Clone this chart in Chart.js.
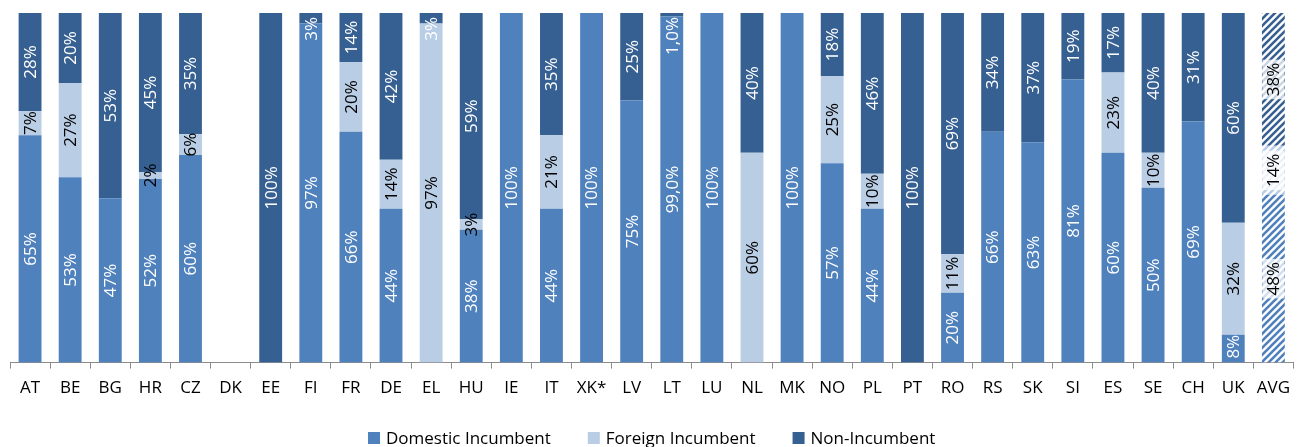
<!DOCTYPE html>
<html>
<head>
<meta charset="utf-8">
<script src="https://cdn.jsdelivr.net/npm/chart.js@4/dist/chart.umd.min.js"></script>
<style>
  html, body { margin: 0; padding: 0; background: #fff; }
  #wrap { width: 1299px; height: 447px; position: relative; }
</style>
</head>
<body>
<div id="wrap"><canvas id="c"></canvas></div>
<script>
// Market shares by country (percent)
const categories = ['AT','BE','BG','HR','CZ','DK','EE','FI','FR','DE','EL','HU','IE','IT','XK*','LV','LT','LU','NL','MK','NO','PL','PT','RO','RS','SK','SI','ES','SE','CH','UK','AVG'];
const domesticIncumbent = [65,53,47,52,60,0,0,97,66,44,0,38,100,44,100,75,99.0,100,0,100,57,44,0,20,66,63,81,60,50,69,8,48];
const foreignIncumbent  = [7,27,0,2,6,0,0,0,20,14,97,3,0,21,0,0,0,0,60,0,25,10,0,11,0,0,0,23,10,0,32,14];
const nonIncumbent      = [28,20,53,45,35,0,100,3,14,42,3,59,0,35,0,25,1.0,0,40,0,18,46,100,69,34,37,19,17,40,31,60,38];
// categories whose labels are shown with one decimal
const oneDecimal = ['LT'];

const seriesNames = ['Domestic Incumbent','Foreign Incumbent','Non-Incumbent'];
const seriesColors = ['#4F81BD','#B9CDE5','#376092'];

const FONT = '"Open Sans"';

// diagonal hatch used for the average column
function hatch(color) {
  const s = 7;
  const cv = document.createElement('canvas');
  cv.width = s; cv.height = s;
  const g = cv.getContext('2d');
  g.fillStyle = '#ffffff';
  g.fillRect(0, 0, s, s);
  g.strokeStyle = color;
  g.lineWidth = 2.6;
  g.beginPath();
  for (let k = -1; k <= 1; k++) {
    g.moveTo(k * s - 1, s + 1);
    g.lineTo(k * s + s + 1, -1);
  }
  g.stroke();
  return document.getElementById('c').getContext('2d').createPattern(cv, 'repeat');
}

const raw = [domesticIncumbent, foreignIncumbent, nonIncumbent];
const totals = categories.map((_, i) => raw.reduce((s, arr) => s + arr[i], 0));
// 100% stacked: each part is drawn as its share of the column total
const shares = raw.map(arr => arr.map((v, i) => totals[i] ? v / totals[i] * 100 : 0));

const avgIndex = categories.indexOf('AVG');
const datasets = raw.map((arr, d) => {
  const pat = hatch(seriesColors[d]);
  return {
    label: seriesNames[d],
    data: shares[d],
    rawValues: arr,
    backgroundColor: categories.map((c, i) => i === avgIndex ? pat : seriesColors[d]),
    borderWidth: 0,
    categoryPercentage: 1.0,
    barPercentage: 0.57
  };
});

function fmt(v, cat) {
  if (oneDecimal.includes(cat)) return v.toFixed(1).replace('.', ',') + '%';
  return Math.round(v) + '%';
}

// rotated value labels inside each segment
const valueLabels = {
  id: 'valueLabels',
  afterDatasetsDraw(chart) {
    const ctx = chart.ctx;
    const area = chart.chartArea;
    ctx.save();
    ctx.font = '17px ' + FONT;
    ctx.textAlign = 'center';
    ctx.textBaseline = 'middle';
    chart.data.datasets.forEach((ds, d) => {
      const meta = chart.getDatasetMeta(d);
      meta.data.forEach((bar, i) => {
        const v = ds.rawValues[i];
        if (!v) return;
        const txt = fmt(v, categories[i]);
        const len = ctx.measureText(txt).width;
        const top = Math.min(bar.y, bar.base), bot = Math.max(bar.y, bar.base);
        let cy = (top + bot) / 2;
        const lo = area.top + len / 2 + 4, hi = area.bottom - len / 2 - 4;
        cy = Math.max(lo, Math.min(hi, cy));
        ctx.save();
        ctx.translate(bar.x, cy);
        ctx.rotate(-Math.PI / 2);
        if (i === avgIndex) {
          ctx.fillStyle = 'rgba(255,255,255,0.75)';
          ctx.fillRect(-len / 2 - 3, -11, len + 6, 22);
          ctx.fillStyle = '#000000';
        } else {
          ctx.fillStyle = d === 1 ? '#000000' : '#ffffff';
        }
        ctx.fillText(txt, 0, 1);
        ctx.restore();
      });
    });
    ctx.restore();
  }
};

// legend row under the axis
const bottomLegend = {
  id: 'bottomLegend',
  afterDraw(chart) {
    const ctx = chart.ctx;
    const area = chart.chartArea;
    const box = 12, gapText = 6, gapItem = 37, y = 438;
    ctx.save();
    ctx.font = '17px ' + FONT;
    ctx.textBaseline = 'middle';
    ctx.textAlign = 'left';
    const widths = seriesNames.map(n => ctx.measureText(n).width);
    const total = widths.reduce((s, w) => s + box + gapText + w, 0) + gapItem * (seriesNames.length - 1);
    let x = (area.left + area.right) / 2 - total / 2;
    seriesNames.forEach((n, d) => {
      ctx.fillStyle = seriesColors[d];
      ctx.fillRect(x, y - box / 2, box, box);
      ctx.fillStyle = '#000';
      ctx.fillText(n, x + box + gapText, y + 1);
      x += box + gapText + widths[d] + gapItem;
    });
    ctx.restore();
  }
};

new Chart(document.getElementById('c'), {
  type: 'bar',
  data: { labels: categories, datasets },
  options: {
    responsive: true,
    maintainAspectRatio: false,
    animation: false,
    events: [],
    layout: { padding: { top: 13, left: 10, right: 0, bottom: 40 } },
    scales: {
      x: {
        stacked: true,
        offset: true,
        grid: { display: true, drawOnChartArea: false, drawTicks: true, tickLength: 6, color: '#8c8c8c', offset: true },
        border: { display: true, color: '#8c8c8c', width: 1 },
        ticks: { color: '#000', font: { family: 'Open Sans', size: 17 }, padding: 9, maxRotation: 0, autoSkip: false }
      },
      y: {
        stacked: true,
        min: 0, max: 100,
        display: false
      }
    },
    plugins: {
      legend: { display: false },
      tooltip: { enabled: false }
    }
  },
  plugins: [valueLabels, bottomLegend]
});
</script>
</body>
</html>
